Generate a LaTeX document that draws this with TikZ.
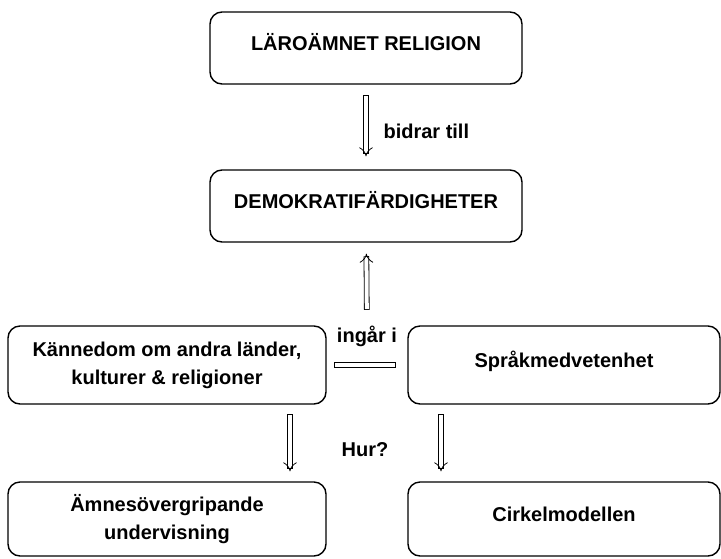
\documentclass[tikz,border=0pt]{standalone}
\usepackage{fontspec}
\setmainfont{Liberation Sans}
\usetikzlibrary{arrows.meta}

\begin{document}
\begin{tikzpicture}[x=1pt,y=-1pt]
		\tikzset{box/.style = {draw, line width=1.4pt, rounded corners=12pt, align=center,
				font=\fontsize{20}{28}\selectfont\bfseries}}
		\tikzset{onebox/.style = {box, text height=15pt, text depth=10pt}}
		\tikzset{note/.style = {font=\fontsize{20}{28}\selectfont\bfseries}}
		\tikzset{link/.style = {double, double distance=4pt, line width=0.8pt, line cap=rect, -{Implies}}}
		\tikzset{bar/.style = {double, double distance=4pt, line width=0.8pt, line cap=rect}}
		
		\useasboundingbox (0,0) rectangle (721,558);
		
		\node[onebox, minimum width=312, minimum height=72] (rel)    at (366, 48) {LÄROÄMNET RELIGION};
		\node[onebox, minimum width=312, minimum height=72] (demo)   at (366,206) {DEMOKRATIFÄRDIGHETER};
		\node[box,    minimum width=318, minimum height=78] (kann)   at (167,365) {Kännedom om andra länder,\\kulturer \& religioner};
		\node[onebox, minimum width=312, minimum height=78] (sprak)  at (564,365) {Språkmedvetenhet};
		\node[box,    minimum width=318, minimum height=74] (amnes)  at (167,519) {Ämnesövergripande\\undervisning};
		\node[onebox, minimum width=312, minimum height=74] (cirkel) at (564,519) {Cirkelmodellen};
		
		\node[note, anchor=west] (bidrar) at (380,131) {bidrar till};
		\node[note] (ingar) at (367,336) {ingår i};
		\node[note] (hur)   at (365,450) {Hur?};
		
		\draw[link, shorten <=15, shorten >=11] (ingar) -- (demo);
		\draw[link, shorten <=13, shorten >=13] (rel) -- (demo);
		\draw[bar, shorten <=10, shorten >=14] (kann) -- (sprak);
		\draw[link, shorten <=12, shorten >=10] ([xshift=123]kann.south) -- ([xshift=123]amnes.north);
		\draw[link, shorten <=12, shorten >=10] ([xshift=-123]sprak.south) -- ([xshift=-123]cirkel.north);
\end{tikzpicture}
\end{document}
